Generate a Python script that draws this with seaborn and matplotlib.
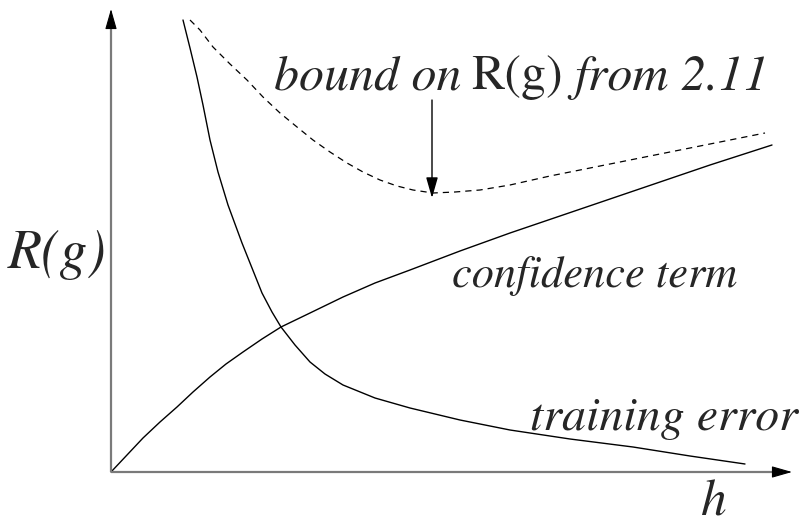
import matplotlib
matplotlib.use("Agg")
import matplotlib.pyplot as plt
import seaborn as sns
import pandas as pd

# Model complexity h against risk R(g)
train_h = [72, 79, 86, 92, 99, 107, 117, 131, 141, 151, 161, 170, 184, 199, 214, 232,
           264, 299, 349, 399, 459, 522, 579, 634]
train_r = [452, 424, 395, 367, 332, 300, 267, 229, 204, 179, 160, 145, 127, 110, 98, 87,
           74, 64, 52, 42, 33, 25, 16, 8]

conf_h = [0, 16, 32, 49, 66, 82, 99, 115, 132, 151, 170, 199, 232, 264, 299, 349, 399,
          449, 499, 549, 599, 661]
conf_r = [0, 17, 34, 50, 65, 80, 95, 108, 120, 133, 145, 159, 175, 189, 202, 221, 239,
          256, 273, 290, 307, 327]

bound_h = [79, 89, 102, 119, 136, 152, 169, 186, 202, 219, 236, 252, 269, 286, 302, 322,
           344, 369, 399, 439, 489, 539, 589, 654]
bound_r = [452, 442, 425, 408, 392, 375, 359, 345, 332, 320, 309, 300, 292, 286, 282, 279,
           280, 282, 287, 296, 306, 316, 326, 339]

sns.set_theme(style="white")
plt.rcParams["font.family"] = ["TeX Gyre Termes", "DejaVu Serif"]

fig = plt.figure(figsize=(8.1, 5.27), dpi=100)
ax = fig.add_axes([0, 0, 1, 1])
ax.set_xlim(-111, 699)
ax.set_ylim(-55, 472)
ax.axis("off")

train = pd.DataFrame({"h": train_h, "R": train_r})
conf = pd.DataFrame({"h": conf_h, "R": conf_r})
bound = pd.DataFrame({"h": bound_h, "R": bound_r})

sns.lineplot(data=train, x="h", y="R", ax=ax, color="black", lw=1.0, sort=False)
sns.lineplot(data=conf, x="h", y="R", ax=ax, color="black", lw=1.0, sort=False)
sns.lineplot(data=bound, x="h", y="R", ax=ax, color="black", lw=0.9, sort=False,
             linestyle=(0, (5, 4)))

# axes with arrow heads
ax.plot([0, 0], [0, 452], color="#7a7a7a", lw=1.6, solid_capstyle="butt")
ax.plot([0, 670], [0, 0], color="#7a7a7a", lw=1.6, solid_capstyle="butt")
head = dict(arrowstyle="-|>,head_length=1.05,head_width=0.3", color="black",
            lw=0.8, shrinkA=0, shrinkB=0)
ax.annotate("", xy=(0, 463), xytext=(0, 445), arrowprops=head)
ax.annotate("", xy=(681, 0), xytext=(663, 0), arrowprops=head)

# pointer to the minimum of the bound
ax.annotate("", xy=(321, 274), xytext=(321, 372),
            arrowprops=dict(arrowstyle="-|>,head_length=1.05,head_width=0.3",
                            color="black", lw=1.0, shrinkA=0, shrinkB=0))

ax.text(-103, 204, "R(g)", fontsize=40, style="italic", ha="left", va="baseline")

# bound label: italic words around an upright R(g), set one after another
fs = 36
t1 = ax.text(163, 382, "bound on", fontsize=fs, style="italic", ha="left", va="baseline")
t2 = ax.annotate("R(g)", xy=(1, 0), xycoords=t1, xytext=(7, 0), textcoords="offset points",
                 fontsize=fs, style="normal", ha="left", va="bottom")
ax.annotate("from 2.11", xy=(1, 0), xycoords=t2, xytext=(8, 0), textcoords="offset points",
            fontsize=fs, style="italic", ha="left", va="bottom")

ax.text(341, 185, "confidence term", fontsize=32, style="italic", ha="left", va="baseline")
ax.text(419, 42, "training error", fontsize=34.5, style="italic", ha="left", va="baseline")
ax.text(589, -44, "h", fontsize=37, style="italic", ha="left", va="baseline")

fig.savefig("out.png", dpi=100)
